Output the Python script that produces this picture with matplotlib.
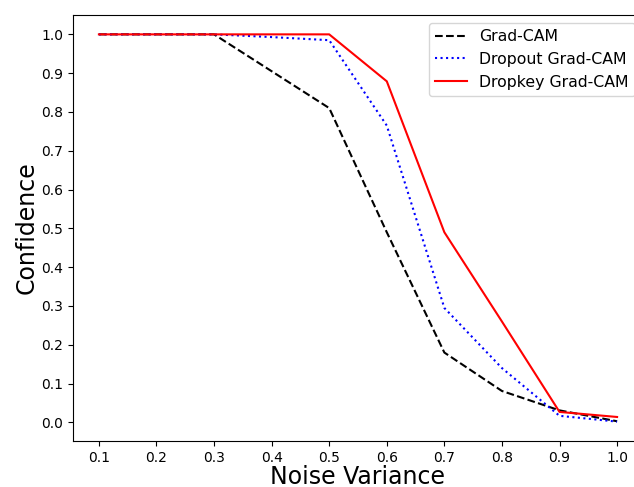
import matplotlib
matplotlib.use("Agg")
import matplotlib.pyplot as plt

noise = [0.1, 0.2, 0.3, 0.4, 0.5, 0.6, 0.7, 0.8, 0.9, 1.0]
gradcam = [1.0, 1.0, 1.0, 0.905, 0.81, 0.49, 0.18, 0.081, 0.031, 0.003]
dropout_gradcam = [1.0, 1.0, 1.0, 0.993, 0.985, 0.765, 0.295, 0.14, 0.017, 0.002]
dropkey_gradcam = [1.0, 1.0, 1.0, 1.0, 1.0, 0.879, 0.49, 0.26, 0.027, 0.014]

W, H = 634, 487
fig = plt.figure(figsize=(W / 100, H / 100), dpi=100)
left, right, top, bottom = 73, 643, 15, 441
ax = fig.add_axes([left / W, (H - bottom) / H, (right - left) / W, (bottom - top) / H])

ax.plot(noise, gradcam, color="black", linestyle="--", label="Grad-CAM")
ax.plot(noise, dropout_gradcam, color="blue", linestyle=":", label="Dropout Grad-CAM")
ax.plot(noise, dropkey_gradcam, color="red", linestyle="-", label="Dropkey Grad-CAM")

ax.set_xticks(noise)
ax.set_yticks([i / 10 for i in range(11)])
ax.set_xlabel("Noise Variance", fontsize=17, labelpad=0)
ax.set_ylabel("Confidence", fontsize=17, labelpad=2)
ax.legend(loc="upper right", fontsize=11.3)

fig.savefig("out.png", dpi=100)
